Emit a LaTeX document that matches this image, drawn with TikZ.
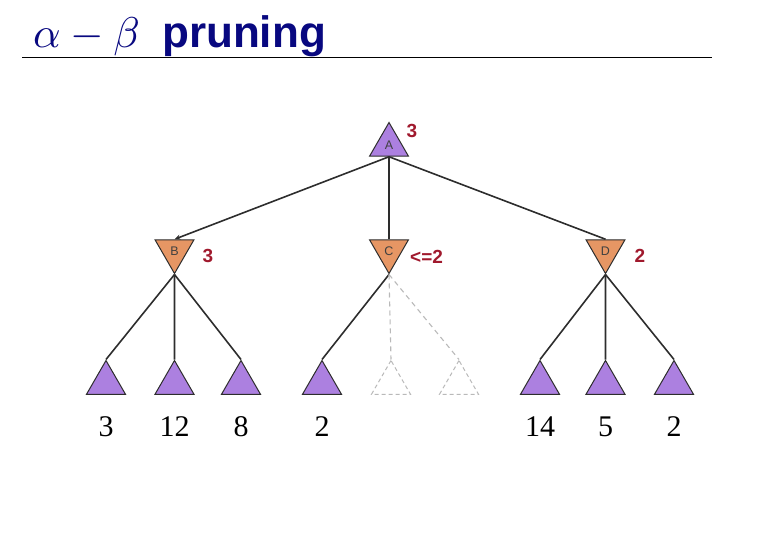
\documentclass[tikz,border=0pt]{standalone}
\usepackage{fontspec}
\setmainfont{Liberation Serif}
\newfontfamily\titlesans{Liberation Sans}
\usetikzlibrary{shapes.geometric,arrows.meta}
\definecolor{navy}{RGB}{8,8,128}
\definecolor{maxfill}{RGB}{172,128,224}
\definecolor{minfill}{RGB}{230,150,100}
\definecolor{valred}{RGB}{160,25,45}
\definecolor{edgecol}{RGB}{45,45,45}
\definecolor{prunecol}{RGB}{185,185,185}
\tikzset{
  tri/.style={regular polygon, regular polygon sides=3, minimum size=45pt, inner sep=0pt,
    draw=edgecol, line width=1pt, font=\titlesans\fontsize{12.5}{12.5}\selectfont, text=black!75},
  maxnode/.style={tri, fill=maxfill},
  minnode/.style={tri, shape border rotate=180, fill=minfill},
  prunednode/.style={tri, draw=prunecol, dashed, dash pattern=on 4pt off 3pt, fill=none},
  edge/.style={draw=edgecol, line width=1.6pt},
  prunededge/.style={draw=prunecol, line width=1.1pt, dash pattern=on 5pt off 4pt},
  val/.style={font=\titlesans\bfseries\fontsize{19}{19}\selectfont, text=valred, inner sep=0pt},
  leafval/.style={font=\fontsize{30}{30}\selectfont, inner sep=0pt},
}
\begin{document}
\begin{tikzpicture}[x=1pt,y=-1pt]
\useasboundingbox (0,0) rectangle (760,556);
% title
\node[anchor=base west, inner sep=0pt, text=navy] (tmath) at (33,48) {\scalebox{4.3}{$\alpha-\beta$}};
\node[anchor=base west, inner sep=0pt, text=navy, font=\titlesans\bfseries\fontsize{44}{50}\selectfont] (tword) at (162,48) {pruning};
\coordinate (rl) at (22,57.5);
\coordinate (rr) at (712,57.5);
\draw[line width=1pt] (rl) -- (rr);
% tree
\node[maxnode] (A) at (389,145) {A};
\node[minnode] (B) at (174.5,251) {B};
\node[minnode] (C) at (389,251) {C};
\node[minnode] (D) at (605.5,251) {D};
\node[val] (vA) at (412,131) {3};
\node[val] (vB) at (208,256) {3};
\node[val, anchor=west] (vC) at (410,257) {<=2};
\node[val] (vD) at (640,256) {2};
\foreach \n/\x in {l1/106,l2/174.5,l3/241,l4/322,l7/540,l8/605.5,l9/674}{
  \node[maxnode] (\n) at (\x,383) {};
}
\node[prunednode] (l5) at (391,383) {};
\node[prunednode] (l6) at (459,383) {};
\foreach \n/\x/\v in {n1/106/3,n2/174.5/12,n3/241/8,n4/322/2,n7/540/14,n8/605.5/5,n9/674/2}{
  \node[leafval] (\n) at (\x,427) {\v};
}
\draw[edge, -{Stealth[length=6pt,width=5pt]}] (A.south) -- (B.north);
\draw[edge] (A.south) -- (C.north);
\draw[edge] (A.south) -- (D.north);
\foreach \l in {l1,l2,l3}{ \draw[edge] (B.south) -- (\l.north); }
\draw[edge] (C.south) -- (l4.north);
\draw[prunededge] (C.south) -- (l5.north);
\draw[prunededge] (C.south) -- (l6.north);
\foreach \l in {l7,l8,l9}{ \draw[edge] (D.south) -- (\l.north); }
\end{tikzpicture}
\end{document}
